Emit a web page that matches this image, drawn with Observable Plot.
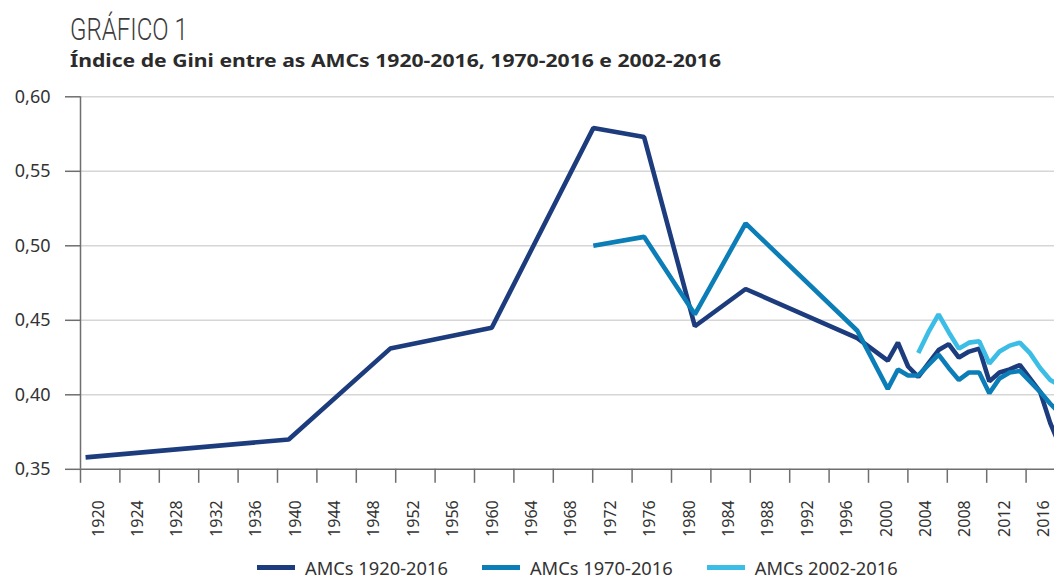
<!DOCTYPE html>
<html><head><meta charset="utf-8">
<script src="https://cdn.jsdelivr.net/npm/d3@7"></script>
<script src="https://cdn.jsdelivr.net/npm/@observablehq/plot@0.6"></script>
<style>
html,body{margin:0;padding:0;background:#fff;overflow:hidden}
#wrap{position:relative;width:1054px;height:578px;overflow:hidden;background:#fff}
.t{position:absolute;white-space:nowrap;transform-origin:0 0;line-height:1}
#title{left:70px;top:14px;font-family:Roboto,sans-serif;font-weight:300;font-size:31px;color:#3c3c3c}
#subtitle{left:70px;top:51px;font-family:"Noto Sans",sans-serif;font-weight:700;font-size:18px;color:#2b2b2b}
#chart{position:absolute;left:0;top:85px;width:1054px}
#legend{position:absolute;left:257px;top:558.5px;display:flex;align-items:center;font-family:"Noto Sans",sans-serif;font-size:18.3px;color:#333;line-height:1;white-space:nowrap}
.item{display:flex;align-items:center;margin-right:34px}
.sw{width:38px;height:5px;margin-right:10px}
</style></head><body>
<div id="wrap">
  <div id="title" class="t">GRÁFICO 1</div>
  <div id="subtitle" class="t">Índice de Gini entre as AMCs 1920-2016, 1970-2016 e 2002-2016</div>
  <div id="chart"></div>
  <div id="legend"></div>
</div>
<script>
// ---- data ----
const seriesNames = ["AMCs 1920-2016", "AMCs 1970-2016", "AMCs 2002-2016"];
const seriesColors = ["#1c3c7d", "#0b7db7", "#3bbde6"];

const years1 = [1920, 1940, 1950, 1960, 1970, 1975, 1980, 1985, 1996, 1999, 2000, 2001, 2002, 2003, 2004, 2005, 2006, 2007, 2008, 2009, 2010, 2011, 2012, 2013, 2014, 2015, 2016];
const gini1  = [0.358, 0.370, 0.431, 0.445, 0.579, 0.573, 0.446, 0.471, 0.438, 0.423, 0.435, 0.419, 0.412, 0.421, 0.430, 0.434, 0.425, 0.429, 0.431, 0.409, 0.415, 0.417, 0.420, 0.411, 0.402, 0.381, 0.365];

const years2 = [1970, 1975, 1980, 1985, 1996, 1999, 2000, 2001, 2002, 2003, 2004, 2005, 2006, 2007, 2008, 2009, 2010, 2011, 2012, 2013, 2014, 2015, 2016];
const gini2  = [0.500, 0.506, 0.454, 0.515, 0.443, 0.404, 0.417, 0.413, 0.413, 0.420, 0.427, 0.418, 0.410, 0.415, 0.415, 0.401, 0.411, 0.415, 0.416, 0.409, 0.402, 0.394, 0.387];

const years3 = [2002, 2003, 2004, 2005, 2006, 2007, 2008, 2009, 2010, 2011, 2012, 2013, 2014, 2015, 2016];
const gini3  = [0.428, 0.442, 0.454, 0.442, 0.431, 0.435, 0.436, 0.421, 0.429, 0.433, 0.435, 0.428, 0.418, 0.410, 0.406];

const yTicks = [0.35, 0.40, 0.45, 0.50, 0.55, 0.60];
const xTickLabels = [1920, 1924, 1928, 1932, 1936, 1940, 1944, 1948, 1952, 1956, 1960, 1964, 1968, 1972, 1976, 1980, 1984, 1988, 1992, 1996, 2000, 2004, 2008, 2012, 2016];

// ---- build ----
const toRows = (ys, vs, name) => ys.map((y, i) => ({year: y, gini: vs[i], serie: name}));
const rows1 = toRows(years1, gini1, seriesNames[0]);
const rows2 = toRows(years2, gini2, seriesNames[1]);
const rows3 = toRows(years3, gini3, seriesNames[2]);

// the category axis has 100 yearly slots drawn over the same width as the 97 data years
const slot = 97 / 100;
const tickPos = y => 1919.5 + (y - 1920) * slot;
const labelPos = y => 1919.5 + (y - 1920 + 2) * slot;
const fmt = d => d.toFixed(2).replace(".", ",");
const axisColor = "#6e6e6e";

const lineOpts = (c) => ({x: "year", y: "gini", stroke: c, strokeWidth: 4.6, strokeLinejoin: "miter", strokeLinecap: "butt"});

const chart = Plot.plot({
  width: 1054,
  height: 463,
  marginTop: 11.3,
  marginBottom: 79.2,
  marginLeft: 80,
  marginRight: 0,
  x: {domain: [1919.5, 2016.5], range: [80, 1065], axis: null},
  y: {domain: [0.35, 0.60], axis: null},
  style: {fontFamily: "'Noto Sans', sans-serif", fontSize: "16px", color: "#333", background: "white", overflow: "hidden"},
  marks: [
    Plot.gridY(yTicks.slice(1), {stroke: "#d6d6d6", strokeOpacity: 1, strokeWidth: 1.6}),
    Plot.axisY(yTicks, {tickSize: 15, tickPadding: 15, tickFormat: fmt, fontSize: 18, stroke: axisColor, strokeWidth: 1.5, fill: "#333", label: null}),
    Plot.ruleX([1919.5], {stroke: axisColor, strokeWidth: 1.5}),
    Plot.ruleY([0.35], {stroke: axisColor, strokeWidth: 1.5}),
    Plot.axisX(xTickLabels.map(tickPos), {tickSize: 14, tickFormat: () => "", stroke: axisColor, strokeWidth: 1.5, label: null}),
    Plot.text(xTickLabels, {x: labelPos, frameAnchor: "bottom", lineAnchor: "middle", text: d => String(d), rotate: -90, textAnchor: "end", dx: -1.8, dy: 31, fontSize: 16, fill: "#333"}),
    Plot.line(rows1, lineOpts(seriesColors[0])),
    Plot.line(rows2, lineOpts(seriesColors[1])),
    Plot.line(rows3, lineOpts(seriesColors[2]))
  ]
});
document.getElementById("chart").appendChild(chart);

// legend
const legend = document.getElementById("legend");
seriesNames.forEach((n, i) => {
  const it = document.createElement("div");
  it.className = "item";
  const sw = document.createElement("div");
  sw.className = "sw";
  sw.style.background = seriesColors[i];
  const tx = document.createElement("span");
  tx.textContent = n;
  it.appendChild(sw); it.appendChild(tx);
  legend.appendChild(it);
});

// condensed title fonts: fit the measured widths of the reference
function fit(id, w) {
  const el = document.getElementById(id);
  el.style.transform = "none";
  el.style.transform = `scaleX(${w / el.offsetWidth})`;
}
function fitAll() { fit("title", 118); fit("subtitle", 651); }
fitAll();
if (document.fonts && document.fonts.ready) document.fonts.ready.then(fitAll);
</script>
</body></html>
